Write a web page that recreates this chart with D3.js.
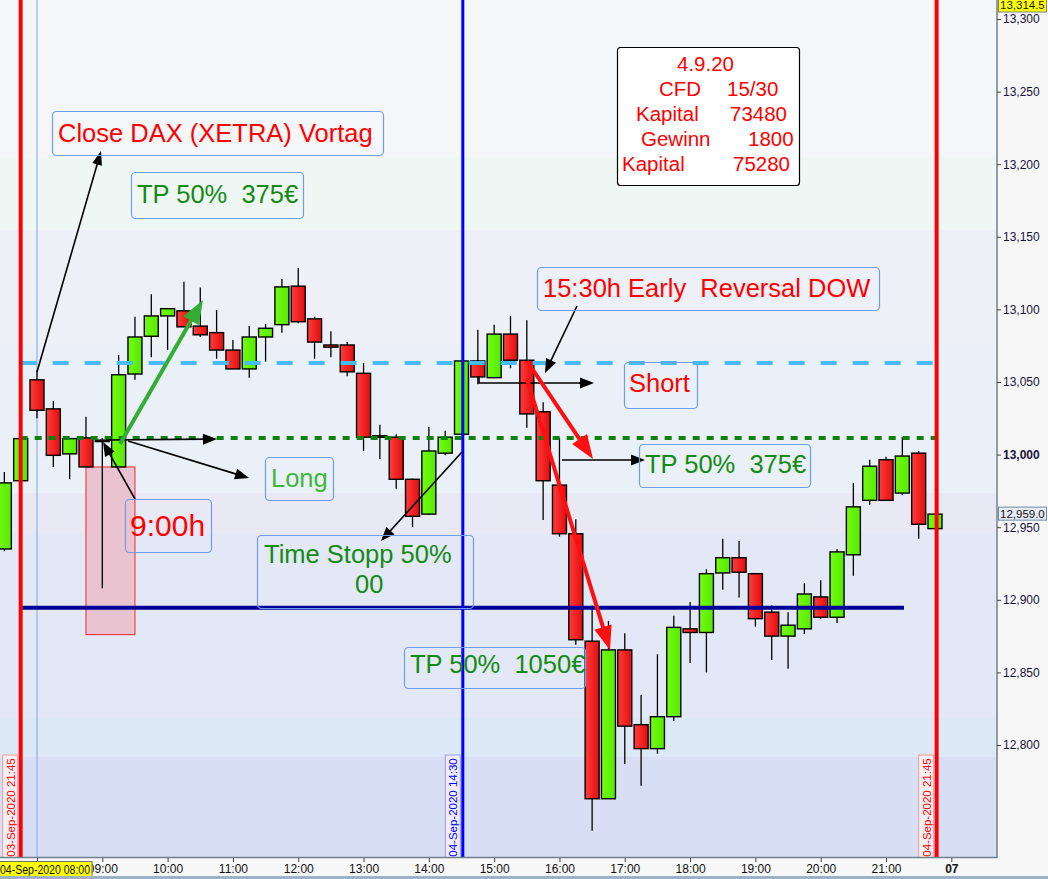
<!DOCTYPE html>
<html><head><meta charset="utf-8">
<script src="https://cdn.jsdelivr.net/npm/d3@7"></script>
<style>html,body{margin:0;padding:0;background:#f7f7f7;overflow:hidden}svg{display:block;font-family:"Liberation Sans",Arial,sans-serif}</style>
</head><body><svg id="c" width="1048" height="879"></svg>
<script>
// ---------- data ----------
const times = ["03-Sep 21:30","03-Sep 21:45",
"08:00","08:15","08:30","08:45","09:00","09:15","09:30","09:45","10:00","10:15","10:30","10:45",
"11:00","11:15","11:30","11:45","12:00","12:15","12:30","12:45","13:00","13:15","13:30","13:45",
"14:00","14:15","14:30","14:45","15:00","15:15","15:30","15:45","16:00","16:15","16:30","16:45",
"17:00","17:15","17:30","17:45","18:00","18:15","18:30","18:45","19:00","19:15","19:30","19:45",
"20:00","20:15","20:30","20:45","21:00","21:15","21:30","21:45"];
const open  = [12935,12982,13051.5,13031.5,13000.5,13011.5,13010,12991.5,13055.5,13081.5,13095.5,13099,13088.5,13084,13072,13059,13081,13089.5,13116,13093.5,13075.5,13075.5,13056,13012,13012,12983,12959,13001,13014,13064.5,13053,13083,13065,13029.5,12979,12945.5,12871.5,12763,12865.5,12814,12797.5,12819.5,12880,12877.5,12918.5,12929,12918,12891.5,12875,12880,12902,12888,12931,12968.5,12996.5,12973.5,13001,12949];
const high  = [12988,13012,13058,13037,13011,13026,13011.5,13068.5,13095,13110.5,13101,13119,13115,13099.5,13079,13088.5,13090,13121,13128.5,13095,13085,13077.5,13063,13020.5,13014,12983.5,13019,13016.5,13064.5,13086,13089.5,13095.5,13092.5,13036,13011.5,12955.5,12896,12885.5,12877,12834.5,12862.5,12889,12898.5,12921,12942,12940.5,12918,12896,12891.5,12911.5,12913.5,12935,12980.5,12996.5,12998.5,13012,13002.5,12959];
const low   = [12933.5,12981.5,13025,12991.5,12983,12991.5,12908,12991.5,13051.5,13067,13072,13088,13081,13066,13059,13053,13064,13084,13090.5,13066,13067,13054,13002.5,12997,12976.5,12950,12958.5,12999.5,13014,13048.5,13052.5,13059.5,13018.5,12955,12943.5,12869,12741,12763,12787,12772,12794,12816.5,12856.5,12850,12907,12901.5,12881.5,12858.5,12852.5,12876.5,12887,12884,12916.5,12965.5,12968.5,12972,12942,12949];
const close = [12980.5,13011,13030.5,12999.5,13011,12991.5,13009.5,13055,13081,13095.5,13100.5,13088,13082.5,13072,13059,13081,13087,13115.5,13091.5,13077.5,13074,13057,13012,13013,12983,12957.5,13002.5,13012,13064.5,13053.5,13083,13065,13028,12982,12945.5,12872.5,12763,12865.5,12813,12797.5,12819.5,12881,12877.5,12918,12929,12919,12887,12875,12882.5,12904,12888,12933,12964,12992,12968.5,12999,12952,12959];
const xTickIdx    = [0,4,8,12,16,20,24,28,32,36,40,44,48,52,56];
const xTickLabels = ["08:00","09:00","10:00","11:00","12:00","13:00","14:00","15:00","16:00","17:00","18:00","19:00","20:00","21:00","07"];
const yTicks = [12800,12850,12900,12950,13000,13050,13100,13150,13200,13250,13300];
const levelCloseVortag = 13063;   // dashed light blue
const levelEntry = 13011.5;       // dotted green
const levelSupport = 12894.5;     // navy
const lastPrice = 12959.0, topPrice = 13314.5;
const vLines = [{i:-1, label:"03-Sep-2020 21:45", color:"#ff0000", w:4},
                {i:26.08, label:"04-Sep-2020 14:30", color:"#0000ff", w:3},
                {i:55.1, label:"04-Sep-2020 21:45", color:"#ff0000", w:4}];

// ---------- scales ----------
const svg = d3.select("#c");
const PL=0, PR=997, PT=0, PB=858;
const x = d3.scaleLinear().domain([0,55]).range([37,935]);
const y = d3.scaleLinear().domain([12800,13300]).range([745,19]);
const candles = times.map((t,k)=>({i:k-2,t,o:open[k],h:high[k],l:low[k],c:close[k]}));

const defs = svg.append("defs");
const gR = defs.append("linearGradient").attr("id","gr").attr("x1",0).attr("x2",1);
gR.append("stop").attr("offset",0).attr("stop-color","#ff3c3c");
gR.append("stop").attr("offset",1).attr("stop-color","#e20e0e");
const gG = defs.append("linearGradient").attr("id","gg").attr("x1",0).attr("x2",1);
gG.append("stop").attr("offset",0).attr("stop-color","#74fb12");
gG.append("stop").attr("offset",1).attr("stop-color","#55ea00");
defs.append("clipPath").attr("id","plot").append("rect").attr("x",PL).attr("y",PT).attr("width",PR-PL).attr("height",PB-PT);

// background
svg.append("rect").attr("width",1048).attr("height",879).attr("fill","#f7f7f7");
const bands = [[0,157,"#f5f6f8"],[157,230,"#eff7f5"],[230,345,"#eef0f8"],[345,493,"#e9f0f7"],[493,533,"#e9e9f6"],[533,718,"#e3e8f6"],[718,757,"#dce8f5"],[757,858,"#d8dff5"]];
svg.append("g").selectAll("rect").data(bands).join("rect")
  .attr("x",PL).attr("width",PR-PL).attr("y",d=>d[0]).attr("height",d=>d[1]-d[0]).attr("fill",d=>d[2]);

const P = svg.append("g").attr("clip-path","url(#plot)");

// session start thin line (08:00)
P.append("line").attr("x1",x(0)).attr("x2",x(0)).attr("y1",0).attr("y2",PB).attr("stroke","#86a0ea").attr("stroke-width",1);

// pink opening range box
P.append("rect").attr("x",x(3)).attr("width",x(6)-x(3)).attr("y",y(12991.5)).attr("height",y(12876)-y(12991.5))
  .attr("fill","#e9c3d0").attr("stroke","#f02a2a").attr("stroke-width",1);

// candles
const bw = 14;
const cg = P.append("g").selectAll("g").data(candles).join("g");
cg.append("line").attr("x1",d=>x(d.i)).attr("x2",d=>x(d.i)).attr("y1",d=>y(d.h)).attr("y2",d=>y(d.l)).attr("stroke","#000").attr("stroke-width",1.3);
cg.append("rect").attr("x",d=>x(d.i)-bw/2).attr("width",bw)
  .attr("y",d=>y(Math.max(d.o,d.c))).attr("height",d=>Math.max(1.5,Math.abs(y(d.o)-y(d.c))))
  .attr("fill",d=>d.c>=d.o?"url(#gg)":"url(#gr)").attr("stroke","#000").attr("stroke-width",1.4);

// horizontal levels
P.append("line").attr("x1",x(-1)).attr("x2",x(55)).attr("y1",y(levelCloseVortag)).attr("y2",y(levelCloseVortag))
  .attr("stroke","#45bdf2").attr("stroke-width",4).attr("stroke-dasharray","16,16");
P.append("line").attr("x1",x(-1)).attr("x2",x(55)).attr("y1",y(levelEntry)).attr("y2",y(levelEntry))
  .attr("stroke","#108010").attr("stroke-width",4).attr("stroke-dasharray","7,7");
P.append("line").attr("x1",x(-1)).attr("x2",x(53.1)).attr("y1",y(levelSupport)).attr("y2",y(levelSupport))
  .attr("stroke","#000099").attr("stroke-width",4);

// vertical event lines
vLines.forEach(v=>{
  const xx = x(v.i);
  P.append("line").attr("x1",xx).attr("x2",xx).attr("y1",0).attr("y2",PB).attr("stroke",v.color).attr("stroke-width",v.w);
  const lx = xx - v.w/2 - 16, ly = 755;
  const isRed = v.color==="#ff0000";
  P.append("rect").attr("x",lx).attr("y",ly).attr("width",15).attr("height",PB-ly+2)
    .attr("fill",isRed?"#f8f0f2":"#eeeefc").attr("stroke",isRed?"#f29a9a":"#9a9af0").attr("stroke-width",1);
  P.append("text").attr("transform",`translate(${lx+8},${(ly+PB)/2+1}) rotate(-90)`)
    .attr("text-anchor","middle").attr("dominant-baseline","central").attr("font-size",11.5)
    .attr("fill",v.color).text(v.label);
});

// arrows
function arrow(g,x1,y1,x2,y2,color,w,hl,hw){
  const dx=x2-x1, dy=y2-y1, L=Math.hypot(dx,dy), ux=dx/L, uy=dy/L;
  const bx=x2-ux*hl, by=y2-uy*hl;
  g.append("line").attr("x1",x1).attr("y1",y1).attr("x2",x2-ux*hl*0.7).attr("y2",y2-uy*hl*0.7).attr("stroke",color).attr("stroke-width",w);
  g.append("path").attr("d",`M${x2},${y2}L${bx-uy*hw/2},${by+ux*hw/2}L${bx+uy*hw/2},${by-ux*hw/2}Z`).attr("fill",color);
}
const A = svg.append("g");
arrow(A,37,372,101,151,"#000",1.6,14,10);
arrow(A,106,440,217,439,"#000",1.6,14,11);
arrow(A,128,441,249,478,"#000",1.6,14,11);
arrow(A,135,499,103,442,"#000",1.6,14,11);
arrow(A,462,452,381,541,"#000",1.6,14,11);
arrow(A,577,306,545,373,"#000",1.6,14,11);
A.append("path").attr("d","M479,377L479,383L580,383").attr("fill","none").attr("stroke","#000").attr("stroke-width",1.6);
arrow(A,579,383,594,383,"#000",1.6,14,11);
arrow(A,562,460,645,460,"#000",1.6,14,11);
arrow(A,120,444,203,300,"#34ad34",4,24,18);
arrow(A,527,361,593,459,"#ff1010",4,24,18);
arrow(A,527,379,610,650,"#ff1010",4,24,18);

// annotation boxes
const boxes = [
  {x:52,y:111,w:331,h:44,lines:[{t:"Close DAX (XETRA) Vortag",x:58,y:142}],c:"#ff0000"},
  {x:131,y:172,w:172,h:46,lines:[{t:"TP 50%  375€",x:137,y:203}],c:"#138a13"},
  {x:537,y:267,w:342,h:43,lines:[{t:"15:30h Early  Reversal DOW",x:543,y:297}],c:"#ff0000"},
  {x:624,y:362,w:73,h:46,lines:[{t:"Short",x:629,y:392}],c:"#ff0000"},
  {x:639,y:444,w:171,h:43,lines:[{t:"TP 50%  375€",x:645,y:473}],c:"#138a13"},
  {x:265,y:457,w:68,h:43,lines:[{t:"Long",x:271,y:487}],c:"#3fb73a"},
  {x:125,y:499,w:86,h:53,lines:[{t:"9:00h",x:130,y:536,fs:30}],c:"#ff0000"},
  {x:257,y:535,w:216,h:73,lines:[{t:"Time Stopp 50%",x:264,y:563},{t:"00",x:355,y:593}],c:"#138a13"},
  {x:404,y:647,w:181,h:41,lines:[{t:"TP 50%  1050€",x:410,y:673}],c:"#138a13"}
];
const B = svg.append("g");
boxes.forEach(b=>{
  B.append("rect").attr("x",b.x+0.5).attr("y",b.y+0.5).attr("width",b.w).attr("height",b.h).attr("rx",4)
    .attr("fill","none").attr("stroke","#6f9cec").attr("stroke-width",1.2);
  b.lines.forEach(l=>B.append("text").attr("x",l.x).attr("y",l.y).attr("font-size",l.fs||25.5)
    .attr("fill",b.c).style("white-space","pre").text(l.t));
});

// info box
B.append("rect").attr("x",617.5).attr("y",47.5).attr("width",182).attr("height",138).attr("rx",3)
  .attr("fill","#ffffff").attr("stroke","#000").attr("stroke-width",1.2);
const info = [[["4.9.20",677]],[["CFD",659],["15/30",727]],[["Kapital",636],["73480",730]],[["Gewinn",641],["1800",748]],[["Kapital",622],["75280",733]]];
info.forEach((ln,k)=>{
  const t = B.append("text").attr("y",71+k*25).attr("font-size",20.5).attr("fill","#ff0000");
  ln.forEach(p=>t.append("tspan").attr("x",p[1]).text(p[0]+" "));
});

// axes
svg.append("line").attr("x1",0).attr("x2",PR).attr("y1",PB-0.5).attr("y2",PB-0.5).attr("stroke","#70808c").attr("stroke-width",1.5);
svg.append("line").attr("x1",PR).attr("x2",PR).attr("y1",0).attr("y2",PB).attr("stroke","#70808c").attr("stroke-width",1.5);
const ax = svg.append("g").attr("transform",`translate(0,${PB})`)
  .call(d3.axisBottom(x).tickValues(xTickIdx).tickFormat((d,k)=>xTickLabels[k]).tickSize(4).tickPadding(2));
ax.select(".domain").remove();
ax.selectAll("text").attr("font-size",12).attr("fill","#111").attr("font-family","Liberation Sans, Arial")
  .attr("font-weight",(d,k)=>xTickLabels[k]==="07"?"bold":"normal");
ax.selectAll(".tick").filter((d,k)=>k===0).select("text").remove(); // covered by the cursor tag
ax.selectAll("line").attr("stroke","#444");
const ay = svg.append("g").attr("transform",`translate(${PR},0)`)
  .call(d3.axisRight(y).tickValues(yTicks).tickFormat(d3.format(",")).tickSize(4).tickPadding(2));
ay.select(".domain").remove();
ay.selectAll("text").attr("font-size",12).attr("fill","#14143a").attr("font-family","Liberation Sans, Arial")
  .attr("font-weight",d=>d===13000?"bold":"normal");
ay.selectAll("line").attr("stroke","#444");

// price tags
svg.append("rect").attr("x",998.5).attr("y",-1).attr("width",48).attr("height",13).attr("fill","#ffff00").attr("stroke","#808080");
svg.append("text").attr("x",1000).attr("y",y(topPrice)+11).attr("font-size",11.5).attr("fill","#222").text(d3.format(",.1f")(topPrice));
svg.append("rect").attr("x",998.5).attr("y",y(lastPrice)-7).attr("width",48).attr("height",13).attr("fill","#e8ecf6").attr("stroke","#6f8ba2");
svg.append("text").attr("x",1000).attr("y",y(lastPrice)+4).attr("font-size",11.5).attr("fill","#111").text(d3.format(",.1f")(lastPrice));
svg.append("rect").attr("x",-1).attr("y",861.5).attr("width",93).attr("height",15).attr("fill","#ffff00").attr("stroke","#707070");
svg.append("text").attr("x",0).attr("y",874).attr("font-size",12).attr("textLength",90).attr("lengthAdjust","spacingAndGlyphs").attr("fill","#111").text("04-Sep-2020 08:00");
svg.append("rect").attr("x",0).attr("y",876).attr("width",1048).attr("height",3).attr("fill","#9db3c5");
</script></body></html>
